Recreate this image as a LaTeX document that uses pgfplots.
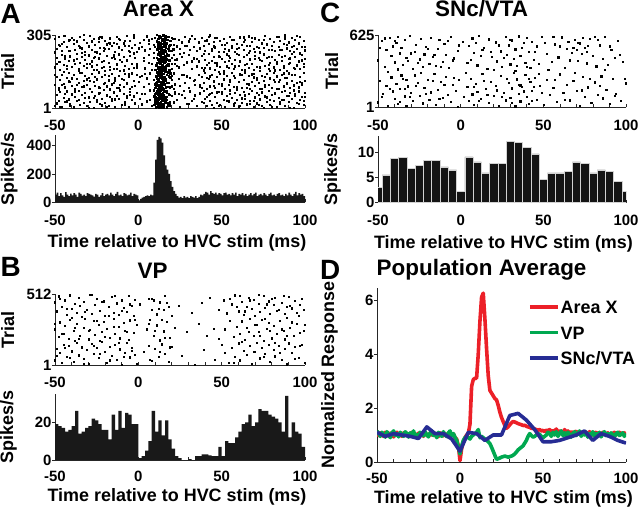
\documentclass[border=0pt]{standalone}
\usepackage{pgfplots}
\pgfplotsset{compat=1.18}
\usepackage{pgfplotstable}
\usepackage{fontspec}
\setmainfont{Liberation Sans}
\definecolor{cred}{RGB}{236,32,40}
\definecolor{cgreen}{RGB}{0,168,80}
\definecolor{cblue}{RGB}{38,44,148}
\newcommand{\fs}[1]{\fontsize{#1}{#1}\selectfont\bfseries}

\pgfplotsset{
  panel/.style={
    scale only axis, anchor=south west,
    axis lines=left, axis line style={-, line width=0.8bp, black!85},
    tick align=inside,
    major tick length=3bp, minor tick length=3bp,
    tick style={line width=0.7bp, black!85},
    every major y tick/.append style={xshift=-3bp},
    xmin=-50, xmax=100,
    xtick={-50,0,50,100},
    minor xtick={-40,-30,-20,-10,10,20,30,40,60,70,80,90},
    /pgf/number format/assume math mode=true,
    tick label style={font=\fs{15}},
    xticklabel style={anchor=base, inner sep=0.5bp},
    label style={font=\fs{18}, inner sep=0pt},
    title style={font=\fs{22.5}, anchor=base, inner sep=0pt},
  },
  dots/.style={only marks, mark=square*, mark size=0.6bp, mark options={draw=none, fill=black}},
  bdots/.style={only marks, mark=square*, mark size=0.8bp, mark options={draw=none, fill=black}},
}

\pgfplotstableread{
x a b c d e f
-50 12 97 171 288 140 233
-49 55 132 210 247 21 186
-48 31 84 193 299 265 77
-47 68 119 160 262 193 5
-46 7 141 224 241 98 270
-45 43 103 182 276 301 152
-44 26 88 207 301 62 217
-43 71 126 166 255 178 29
-42 38 147 199 283 240 113
-41 19 112 217 238 9 285
-40 60 93 174 294 125 58
-39 4 138 202 269 287 199
-38 49 81 186 245 71 245
-37 33 124 228 279 206 97
-36 74 106 158 260 34 163
-35 15 149 191 297 254 14
-34 57 90 213 250 149 231
-33 22 116 177 285 92 305
-32 65 135 203 236 222 44
-31 9 99 168 272 187 121
-30 46 128 221 258 3 259
-29 28 83 185 302 115 82
-28 70 144 196 243 279 175
-27 3 109 162 289 45 211
-26 52 95 215 264 236 130
-25 36 121 180 233 160 28
-24 63 150 208 277 88 292
-23 18 86 226 253 298 66
-22 41 130 169 296 13 194
-21 76 101 198 240 174 251
-20 24 140 155 281 248 105
-19 58 92 219 267 54 7
-18 11 117 188 248 134 273
-17 47 79 172 292 271 159
-16 30 145 211 259 100 39
-15 67 107 163 274 213 224
-14 6 127 205 237 38 117
-13 53 85 183 298 166 268
-12 39 136 225 254 290 85
-11 72 98 157 286 78 203
-10 14 122 194 244 243 16
-9 61 89 216 271 119 158
-8 27 143 176 261 17 282
-7 44 104 201 303 197 50
-6 8 131 165 239 261 142
-5 69 80 220 280 57 237
-4 34 148 187 251 144 90
-3 50 114 170 293 229 304
-2 21 94 209 266 93 20
-1 64 139 179 235 183 169
0 nan 110 nan nan nan 250
1 40 nan nan 273 131 nan
2 17 134 nan 256 nan 60
3 nan 91 197 284 212 nan
4 59 nan 167 242 nan 145
5 29 125 nan 300 26 nan
6 nan 102 223 268 283 188
7 75 146 nan 249 nan 36
8 10 nan 184 290 162 nan
9 48 118 212 263 75 230
10 23 87 159 295 255 42
11 66 137 190 246 180 305
12 2 111 227 278 95 150
13 42 96 173 257 270 12
14 56 142 206 287 31 201
15 16 82 161 234 209 118
16 73 129 195 270 127 264
17 35 105 218 299 4 72
18 62 133 178 252 244 185
19 13 88 200 282 156 25
20 51 120 164 240 294 136
21 25 146 222 265 83 248
22 68 100 186 291 201 61
23 37 nan 204 258 nan 178
24 nan 123 171 285 62 nan
25 5 93 nan 247 nan 227
26 58 nan 214 275 141 nan
27 nan 138 181 232 nan 73
28 45 108 nan 297 259 nan
29 20 nan 192 262 nan 133
30 nan 84 224 279 18 nan
31 71 127 nan 244 nan 289
32 31 nan 166 301 196 nan
33 nan 115 208 255 nan 41
34 54 97 nan 288 120 nan
35 9 nan 175 238 nan 206
36 nan 141 196 272 275 nan
37 63 89 nan 250 nan 99
38 27 131 219 293 85 168
39 74 106 158 260 226 23
40 39 148 203 241 170 281
41 12 80 182 283 47 127
42 57 124 226 268 297 190
43 33 92 167 304 133 61
44 66 139 198 246 14 240
45 1 113 213 277 258 94
46 48 85 160 254 190 294
47 22 130 188 295 67 179
48 70 103 217 236 151 11
49 16 144 174 281 281 213
50 60 95 207 263 102 70
51 36 121 156 290 235 146
52 8 82 193 249 7 266
53 52 136 225 274 175 33
54 29 99 170 242 219 198
55 75 117 210 299 59 110
56 43 147 185 258 285 253
57 11 90 163 286 137 17
58 64 126 201 237 24 175
59 34 79 228 270 249 88
60 5 109 177 252 112 224
61 56 142 194 296 199 9
62 24 87 159 265 42 138
63 69 119 215 243 276 296
64 40 150 180 287 161 54
65 17 101 222 261 86 187
66 62 134 168 300 230 100
67 30 83 204 239 19 262
68 72 112 186 276 293 142
69 8 145 162 248 129 31
70 46 94 220 292 205 234
71 21 128 173 257 66 119
72 58 106 209 284 252 15
73 38 81 157 233 171 202
74 67 137 197 271 11 80
75 3 116 227 253 222 286
76 50 89 178 302 96 132
77 26 143 212 266 267 46
78 73 98 165 245 182 216
79 14 125 190 289 37 155
80 55 86 216 262 245 5
81 32 149 171 278 118 277
82 61 110 202 240 158 64
83 6 133 184 297 81 195
84 44 80 224 255 299 111
85 19 120 161 282 27 243
86 68 141 199 244 214 34
87 37 92 176 269 146 170
88 10 127 218 304 72 292
89 53 104 155 250 264 126
90 28 146 206 275 185 52
91 65 84 188 238 2 208
92 41 114 227 293 139 256
93 1 96 169 260 237 75
94 59 138 213 285 52 164
95 23 108 181 247 176 301
96 71 88 196 272 271 19
97 35 131 166 299 109 229
98 48 100 223 256 200 106
99 15 147 174 280 30 184
100 64 115 205 242 256 47
}\rasterA

\pgfplotstableread{
x a b c d e f g h i j k l
9.5 14 52 nan nan nan nan nan nan nan nan nan nan
10 30 61 101 nan 160 nan nan nan nan 20 nan nan
10.5 5 47 88 133 178 nan nan nan 62 nan 105 nan
11 22 70 109 125 184 210 nan 280 40 95 150 nan
11.5 11 44 82 148 165 203 244 nan 27 120 190 270
12 35 58 97 119 171 225 258 290 8 76 138 205
12.5 17 66 111 141 155 196 235 301 45 92 173 248
13 3 49 79 128 187 219 262 273 20 110 160 230
13.5 27 73 104 150 162 208 239 295 60 86 185 265
14 9 41 92 136 176 193 251 284 16 125 145 215
14.5 33 64 85 117 181 214 231 269 50 100 200 290
15 19 55 113 144 158 227 256 303 5 80 170 240
15.5 38 nan 99 131 189 199 243 278 70 130 210 262
16 nan 45 nan 122 167 216 265 291 30 nan 155 300
16.5 24 nan 87 nan 174 nan 237 287 nan 115 195 255
17 nan 68 nan 139 nan 205 nan 270 48 nan 178 226
17.5 13 nan nan nan 183 nan 248 nan nan 90 nan 285
18 nan nan 106 nan nan 221 nan 298 22 nan 150 nan
18.5 nan 57 nan nan 161 nan 260 nan nan nan 200 240
19 nan nan nan 146 nan nan nan 282 nan 128 nan 265
20 nan nan 93 nan nan 211 nan nan nan nan 185 nan
21 nan nan nan nan nan nan 245 nan nan nan nan 290
}\burstA

\pgfplotstableread{
x y
-50 55
-49 70
-48 45
-47 65
-46 50
-45 40
-44 72
-43 55
-42 45
-41 62
-40 50
-39 65
-38 55
-37 40
-36 70
-35 60
-34 48
-33 55
-32 45
-31 65
-30 60
-29 55
-28 50
-27 42
-26 60
-25 55
-24 40
-23 50
-22 65
-21 45
-20 55
-19 60
-18 50
-17 70
-16 55
-15 45
-14 60
-13 75
-12 50
-11 55
-10 45
-9 65
-8 60
-7 50
-6 55
-5 70
-4 45
-3 60
-2 55
-1 50
0 15
1 25
2 35
3 40
4 45
5 50
6 45
7 55
8 50
9 140
10 300
11 440
12 460
13 450
14 420
15 330
16 260
17 230
18 200
19 150
20 110
21 80
22 60
23 45
24 35
25 40
26 30
27 45
28 35
29 40
30 30
31 45
32 40
33 35
34 45
35 30
36 40
37 55
38 50
39 60
40 75
41 70
42 55
43 80
44 65
45 60
46 70
47 55
48 65
49 60
50 50
51 65
52 70
53 55
54 60
55 50
56 65
57 55
58 70
59 45
60 60
61 55
62 65
63 50
64 60
65 45
66 55
67 65
68 50
69 60
70 70
71 45
72 55
73 60
74 50
75 65
76 55
77 45
78 60
79 70
80 50
81 55
82 45
83 60
84 65
85 50
86 55
87 45
88 60
89 50
90 70
91 55
92 45
93 60
94 75
95 50
96 65
97 55
98 60
99 45
100 45
}\histA

\pgfplotstableread{
x a b c d
-50 45 410 nan nan
-49 230 nan nan 520
-48 nan 575 nan 90
-47 120 nan nan nan
-46 nan 350 nan 600
-45 190 498 nan nan
-44 15 nan nan 310
-43 nan 603 nan 160
-42 262 445 nan nan
-41 140 nan 530 nan
-40 77 392 nan 575
-39 208 560 nan nan
-38 30 331 612 nan
-37 165 470 nan 50
-36 nan 515 nan 280
-35 251 370 nan nan
-34 98 588 160 nan
-33 12 nan 430 240
-32 183 405 nan nan
-31 nan 620 nan 95
-30 125 nan nan 470
-29 59 338 nan nan
-28 280 482 nan nan
-27 nan 545 nan 185
-26 215 nan nan 390
-25 100 418 nan nan
-24 nan 597 nan 300
-23 36 355 nan nan
-22 172 462 nan nan
-21 nan 528 nan 120
-20 243 nan nan 510
-19 68 380 nan nan
-18 132 607 nan nan
-17 nan 440 nan 230
-16 295 nan nan 460
-15 21 362 nan nan
-14 154 508 nan nan
-13 nan 585 nan 75
-12 220 nan nan 350
-11 84 398 nan nan
-10 nan 553 nan 200
-9 268 459 nan nan
-8 110 nan nan 580
-7 nan 342 nan nan
-6 49 615 nan nan
-5 197 nan nan 410
-4 nan 426 nan 260
-3 148 nan nan nan
-2 6 490 nan nan
-1 237 nan nan 540
0 nan nan nan nan
1 nan 570 nan nan
2 92 nan nan nan
3 nan nan nan 300
4 178 388 nan nan
5 58 534 nan nan
6 250 412 nan nan
7 115 nan 599 nan
8 26 476 nan 180
9 205 nan nan 560
10 137 365 nan nan
11 nan 621 nan 60
12 73 450 nan nan
13 290 nan nan 500
14 nan 520 nan 230
15 160 nan nan nan
16 nan 335 nan 110
17 40 592 nan nan
18 226 nan nan 480
19 nan 438 nan nan
20 103 nan nan 330
21 188 566 nan nan
22 nan 401 nan 150
23 18 nan nan 540
24 274 487 nan nan
25 nan 352 nan 90
26 130 nan nan 430
27 63 611 nan nan
28 nan 455 nan 250
29 212 539 nan nan
30 87 374 nan 590
31 166 582 nan 40
32 300 423 nan nan
33 11 505 nan 320
34 245 360 nan nan
35 118 618 nan 200
36 53 446 192 nan
37 178 nan nan 520
38 nan 563 nan 140
39 283 390 nan nan
40 95 602 nan 350
41 34 484 nan 250
42 224 343 nan nan
43 146 571 nan 60
44 nan 416 nan 180
45 258 nan nan 480
46 70 530 nan nan
47 nan 378 nan 290
48 185 nan nan nan
49 nan 611 nan 130
50 22 nan nan nan
51 nan 560 nan nan
52 240 467 nan nan
53 nan nan nan 330
54 107 nan nan nan
55 nan 393 nan nan
56 171 612 nan nan
57 nan 548 nan 240
58 50 nan nan nan
59 nan 436 nan nan
60 287 nan nan 530
61 nan 608 nan nan
62 128 nan nan nan
63 nan 345 nan 70
64 199 510 nan nan
65 nan 570 nan nan
66 63 nan nan 410
67 nan 475 nan nan
68 233 520 nan nan
69 nan 589 nan 300
70 142 498 nan nan
71 nan 405 nan 560
72 17 556 nan nan
73 nan 468 nan 150
74 265 602 nan nan
75 90 517 nan nan
76 nan 384 nan 480
77 176 536 nan nan
78 nan 596 nan 250
79 42 nan nan nan
80 nan 449 nan nan
81 218 nan nan 610
82 nan 358 nan nan
83 113 590 nan nan
84 nan 540 nan 190
85 271 nan nan nan
86 80 420 nan nan
87 nan 613 nan 330
88 155 nan nan nan
89 nan 372 nan nan
90 29 nan nan 530
91 nan 500 nan nan
92 247 nan nan nan
93 nan 433 nan 100
94 122 nan nan nan
95 nan 579 nan nan
96 nan nan nan 460
97 61 nan nan nan
98 nan 395 nan nan
99 nan nan nan 250
100 210 nan nan nan
}\rasterC

\pgfplotstableread{
x y
-52.5 3.0
-47.5 5.5
-42.5 8.8
-37.5 9.0
-32.5 6.8
-27.5 7.4
-22.5 8.4
-17.5 8.4
-12.5 7.1
-7.5 6.5
-2.5 2.3
2.5 9.1
7.5 8.1
12.5 5.9
17.5 7.8
22.5 7.8
27.5 12.2
32.5 11.9
37.5 11.0
42.5 9.7
47.5 4.6
52.5 5.9
57.5 5.9
62.5 6.2
67.5 8.1
72.5 7.8
77.5 5.9
82.5 6.5
87.5 6.2
92.5 4.3
97.5 2.3
102.5 2.3
}\histC

\pgfplotstableread{
x a b c d
-50 35 260 455 300
-49 120 nan 390 70
-48 nan 205 498 nan
-47 88 310 nan 480
-46 15 nan 420 230
-45 150 230 nan nan
-44 nan 285 470 125
-43 62 nan 365 410
-42 140 192 nan nan
-41 nan 330 505 55
-40 101 nan 410 345
-39 25 248 nan nan
-38 nan 177 445 270
-37 160 300 380 nan
-36 72 nan 488 190
-35 nan 215 nan 430
-34 130 nan 350 nan
-33 46 270 460 10
-32 nan 335 nan 385
-31 110 nan 400 nan
-30 8 188 nan 250
-29 nan 255 507 nan
-28 155 nan 372 510
-27 80 320 nan 140
-26 nan 220 438 nan
-25 125 nan 480 320
-24 54 290 nan nan
-23 nan 175 395 85
-22 168 240 nan 460
-21 nan 315 462 nan
-20 95 nan 357 205
-19 20 265 nan nan
-18 nan nan 425 355
-17 135 200 nan 35
-16 68 nan 495 nan
-15 nan 338 378 280
-14 145 225 nan 500
-13 40 nan 448 nan
-12 nan 280 362 160
-11 115 195 nan nan
-10 3 nan 470 395
-9 nan 305 415 60
-8 90 250 nan nan
-7 165 nan 385 240
-6 nan 182 502 nan
-5 58 325 nan 440
-4 128 nan 432 105
-3 nan 235 355 nan
-2 76 nan 475 330
-1 12 295 nan nan
0 nan nan nan nan
1 nan nan 440 nan
2 nan nan nan nan
3 100 nan nan nan
4 nan nan nan nan
5 nan 260 nan nan
6 142 nan 478 300
7 nan 330 nan 40
8 30 nan 402 480
9 nan 210 470 nan
10 118 nan nan 250
11 nan 288 368 nan
12 60 nan nan 410
13 nan 180 455 95
14 152 nan nan 330
15 nan 245 398 nan
16 85 nan 500 200
17 nan 312 nan 450
18 22 nan 420 nan
19 nan 198 nan 130
20 132 nan 360 nan
21 nan nan nan nan
22 nan 270 nan nan
23 nan nan nan nan
24 nan nan 430 nan
25 nan nan nan nan
26 70 nan nan nan
27 nan nan nan nan
28 nan nan nan nan
29 nan 240 nan nan
30 nan nan nan nan
31 nan nan nan nan
32 nan nan 380 nan
33 nan nan nan nan
34 5 nan nan nan
35 nan nan nan nan
36 nan 300 nan nan
37 nan nan nan nan
38 nan nan 450 nan
39 110 nan nan nan
40 nan nan nan nan
41 nan 215 nan nan
42 nan nan nan nan
43 nan nan 490 nan
44 nan nan nan nan
45 nan 265 nan nan
46 40 nan nan nan
47 nan nan nan nan
48 nan 190 400 nan
49 nan nan nan nan
50 145 nan nan nan
51 nan nan 470 nan
52 90 260 nan nan
53 nan nan 375 nan
54 18 nan nan nan
55 nan 322 nan 480
56 125 nan 440 nan
57 nan 205 nan 15
58 60 nan 505 nan
59 nan 280 nan 420
60 158 nan 390 nan
61 35 230 nan 500
62 nan 318 458 170
63 105 nan 366 nan
64 nan 185 nan 390
65 74 270 425 nan
66 nan nan 490 240
67 140 338 nan 470
68 10 nan 410 nan
69 nan 212 472 100
70 95 nan 360 290
71 165 295 nan nan
72 nan 240 445 510
73 50 nan 388 215
74 128 330 nan nan
75 nan 178 500 60
76 82 nan 418 335
77 nan 262 nan 440
78 150 305 462 nan
79 25 nan 373 250
80 nan 195 nan 480
81 112 285 435 nan
82 65 nan 485 160
83 nan 225 nan 395
84 138 nan 398 nan
85 nan 320 nan 90
86 42 nan 452 260
87 nan 250 nan 500
88 120 188 370 nan
89 7 340 425 210
90 158 nan 495 nan
91 nan 272 nan 430
92 88 nan 412 310
93 nan 210 nan nan
94 135 nan 466 45
95 nan 300 380 nan
96 55 nan nan 360
97 nan 235 438 140
98 148 nan nan 480
99 nan nan 400 250
100 20 290 nan nan
}\rasterB

\pgfplotstableread{
x y
-50 19
-48 18
-46 17
-44 15
-42 16
-40 18
-38 26
-36 14
-34 15
-32 17
-30 18
-28 22
-26 21
-24 19
-22 16
-20 16
-18 11
-16 24
-14 16
-12 26
-10 17
-8 25
-6 24
-4 19
-2 19
0 1
2 2
4 5
6 10
8 26
10 15
12 21
14 13
16 21
18 11
20 6
22 2
24 1
26 0
28 0
30 0.5
32 0
34 2
36 2
38 3
40 3
42 2.5
44 2
46 2
48 7
50 2
52 10
54 9
56 9
58 12
60 15
62 19
64 20
66 24
68 18
70 20
72 27
74 26
76 26
78 24
80 23
82 22
84 20
86 15
88 34
90 12
92 20
94 15
96 14
98 7
100 7
}\histB

\pgfplotstableread{
x red green
-50 1.05 1.15
-49 0.98 1.05
-48 1.08 0.95
-47 1.00 1.10
-46 0.95 1.00
-45 1.10 0.92
-44 1.02 1.12
-43 0.96 1.02
-42 1.07 0.90
-41 1.00 1.08
-40 0.93 1.15
-39 1.05 0.98
-38 1.10 1.05
-37 0.97 0.93
-36 1.03 1.10
-35 0.95 1.00
-34 1.08 0.95
-33 1.00 1.12
-32 1.06 1.05
-31 0.96 0.92
-30 1.02 1.08
-29 1.10 1.00
-28 0.97 1.15
-27 1.04 0.95
-26 0.94 1.02
-25 1.07 0.90
-24 1.00 1.10
-23 1.05 1.05
-22 0.95 0.97
-21 1.09 1.12
-20 1.01 1.00
-19 0.96 0.93
-18 1.06 1.08
-17 1.00 1.15
-16 1.10 0.98
-15 0.98 1.05
-14 1.03 0.90
-13 0.94 1.10
-12 1.08 1.02
-11 1.02 0.95
-10 0.97 1.12
-9 1.05 1.00
-8 1.00 0.94
-7 0.93 1.08
-6 1.06 1.15
-5 0.99 0.97
-4 1.04 1.05
-3 0.90 0.92
-2 0.85 0.80
-1 0.60 0.55
0 0.05 0.30
1 0.50 0.60
2 0.75 0.80
3 0.90 0.90
4 1.00 0.95
5 1.05 0.90
6 1.40 0.85
7 2.80 0.95
8 3.05 1.00
9 3.10 1.05
10 3.10 1.10
11 4.00 1.20
12 5.20 0.90
13 6.10 0.95
14 6.25 0.90
15 5.30 0.85
16 4.20 0.80
17 3.20 0.75
18 2.65 0.68
19 2.55 0.55
20 2.45 0.40
21 2.35 0.25
22 2.30 0.10
23 2.10 0.12
24 1.85 0.15
25 1.65 0.18
26 1.50 0.20
27 1.35 0.22
28 1.25 0.20
29 1.30 0.18
30 1.38 0.20
31 1.45 0.22
32 1.50 0.25
33 1.48 0.30
34 1.45 0.37
35 1.42 0.45
36 1.40 0.50
37 1.38 0.55
38 1.35 0.60
39 1.36 0.70
40 1.32 0.80
41 1.30 0.95
42 1.28 1.05
43 1.25 0.98
44 1.24 0.92
45 1.22 0.95
46 1.20 1.00
47 1.18 1.05
48 1.20 1.02
49 1.15 0.95
50 1.17 0.90
51 1.12 0.95
52 1.18 1.00
53 1.15 1.10
54 1.20 1.05
55 1.12 0.95
56 1.16 1.10
57 1.14 1.00
58 1.22 1.12
59 1.10 0.95
60 1.15 1.05
61 1.12 1.15
62 1.08 0.98
63 1.20 1.08
64 1.10 0.95
65 1.15 1.10
66 1.05 1.02
67 1.12 0.92
68 1.08 1.05
69 1.10 1.12
70 1.14 0.98
71 1.06 1.05
72 1.10 1.15
73 1.03 0.95
74 1.12 1.08
75 1.08 1.00
76 1.10 1.10
77 1.04 0.92
78 1.12 1.05
79 1.06 1.00
80 1.00 1.12
81 1.08 0.95
82 1.10 1.05
83 1.03 1.00
84 1.07 1.10
85 1.00 0.93
86 1.10 1.05
87 1.05 1.12
88 1.02 0.98
89 1.08 1.05
90 1.00 0.95
91 0.95 1.08
92 1.05 1.00
93 1.10 0.92
94 1.00 1.05
95 1.05 1.10
96 1.10 0.98
97 1.02 1.02
98 1.08 1.08
99 1.05 0.95
100 1.10 1.05
}\popD

\pgfplotstableread{
x y
-50 1.10
-45 0.95
-40 1.05
-35 1.00
-30 0.95
-25 0.87
-20 1.30
-15 1.05
-10 1.05
-5 0.85
0 0.40
5 1.10
10 1.05
15 0.80
20 1.00
25 1.00
30 1.72
35 1.80
40 1.55
45 1.20
50 0.75
55 0.75
60 0.80
65 0.90
70 1.00
75 1.15
80 0.80
85 1.05
90 0.95
95 0.80
100 0.70
}\blueD

\begin{document}
\begin{tikzpicture}
\useasboundingbox (0,0) rectangle (640bp,508bp);

% Panel letters
\node[anchor=base west, inner sep=0pt, font=\fs{28}] at (0.5bp,484.7bp) {A};
\node[anchor=base west, inner sep=0pt, font=\fs{28}] at (320bp,485bp) {C};
\node[anchor=base west, inner sep=0pt, font=\fs{28}] at (0.5bp,231.3bp) {B};
\node[anchor=base west, inner sep=0pt, font=\fs{28}] at (320bp,228bp) {D};

% A raster
\begin{axis}[panel, at={(55bp,400bp)}, width=250bp, height=73bp,
  ymin=1, ymax=305, ytick={1,305}, xticklabel style={yshift=-23bp},
  title={Area X}, title style={at={(axis description cs:0.414,1)}, yshift=12.5bp},
  ylabel={Trial}, ylabel style={at={(axis description cs:-0.164,0.5)}, anchor=base}]
\addplot[dots] table[x=x, y=a] {\rasterA};
\addplot[dots] table[x=x, y=b] {\rasterA};
\addplot[dots] table[x=x, y=c] {\rasterA};
\addplot[dots] table[x=x, y=d] {\rasterA};
\addplot[dots] table[x=x, y=e] {\rasterA};
\addplot[dots] table[x=x, y=f] {\rasterA};
\addplot[bdots] table[x=x, y=a] {\burstA};
\addplot[bdots] table[x=x, y=b] {\burstA};
\addplot[bdots] table[x=x, y=c] {\burstA};
\addplot[bdots] table[x=x, y=d] {\burstA};
\addplot[bdots] table[x=x, y=e] {\burstA};
\addplot[bdots] table[x=x, y=f] {\burstA};
\addplot[bdots] table[x=x, y=g] {\burstA};
\addplot[bdots] table[x=x, y=h] {\burstA};
\addplot[bdots] table[x=x, y=i] {\burstA};
\addplot[bdots] table[x=x, y=j] {\burstA};
\addplot[bdots] table[x=x, y=k] {\burstA};
\addplot[bdots] table[x=x, y=l] {\burstA};
\end{axis}

% A histogram
\begin{axis}[panel, at={(55bp,305.5bp)}, width=250bp, height=67bp,
  ymin=0, ymax=470, ytick={0,200,400}, xticklabel style={yshift=-23bp},
  ylabel={Spikes/s}, ylabel style={at={(axis description cs:-0.165,0.5)}, anchor=base},
  xlabel={Time relative to HVC stim (ms)},
  xlabel style={at={(axis description cs:0.488,0)}, anchor=base, yshift=-45.5bp}]
\addplot[fill=black!90, draw=none, const plot mark left] table[x=x, y=y] {\histA} \closedcycle;
\end{axis}

% C raster
\begin{axis}[panel, at={(378bp,400.7bp)}, width=248bp, height=72bp,
  ymin=1, ymax=625, ytick={1,625}, xticklabel style={yshift=-23bp},
  title={SNc/VTA}, title style={at={(axis description cs:0.418,1)}, yshift=12.5bp},
  ylabel={Trial}, ylabel style={at={(axis description cs:-0.161,0.5)}, anchor=base}]
\addplot[dots] table[x=x, y=a] {\rasterC};
\addplot[dots] table[x=x, y=b] {\rasterC};
\addplot[dots] table[x=x, y=c] {\rasterC};
\addplot[dots] table[x=x, y=d] {\rasterC};
\end{axis}

% C histogram
\begin{axis}[panel, at={(378bp,305.3bp)}, width=248bp, height=66.5bp,
  ymin=0, ymax=13.2, ytick={0,5,10}, xticklabel style={yshift=-23bp},
  ylabel={Spikes/s}, ylabel style={at={(axis description cs:-0.165,0.5)}, anchor=base},
  xlabel={Time relative to HVC stim (ms)},
  xlabel style={at={(axis description cs:0.506,0)}, anchor=base, yshift=-45.5bp}]
\addplot[ybar interval, fill=black!92, draw=gray!35, line width=0.5bp] table[x=x, y=y] {\histC};
\end{axis}

% B raster
\begin{axis}[panel, at={(55bp,143bp)}, width=250bp, height=70.7bp,
  ymin=1, ymax=512, ytick={1,512}, xticklabel style={yshift=-23bp},
  title={VP}, title style={at={(axis description cs:0.39,1)}, yshift=10bp},
  ylabel={Trial}, ylabel style={at={(axis description cs:-0.164,0.5)}, anchor=base}]
\addplot[dots] table[x=x, y=a] {\rasterB};
\addplot[dots] table[x=x, y=b] {\rasterB};
\addplot[dots] table[x=x, y=c] {\rasterB};
\addplot[dots] table[x=x, y=d] {\rasterB};
\end{axis}

% B histogram
\begin{axis}[panel, at={(55bp,48bp)}, width=250bp, height=66bp,
  ymin=0, ymax=35, ytick={0,20}, xticklabel style={yshift=-21bp},
  ylabel={Spikes/s}, ylabel style={at={(axis description cs:-0.168,0.5)}, anchor=base},
  xlabel={Time relative to HVC stim (ms)},
  xlabel style={at={(axis description cs:0.488,0)}, anchor=base, yshift=-41bp}]
\addplot[fill=black!90, draw=none, const plot mark left] table[x=x, y=y] {\histB} \closedcycle;
\end{axis}

% D population average
\begin{axis}[panel, at={(377bp,46bp)}, width=249bp, height=174bp,
  ymin=0, ymax=6.44, ytick={0,2,4,6}, xticklabel style={yshift=-21bp},
  title={Population Average}, title style={at={(axis description cs:0.42,1)}, yshift=6.6bp},
  ylabel={Normalized Response}, ylabel style={at={(axis description cs:-0.172,0.5)}, anchor=base},
  xlabel={Time relative to HVC stim (ms)},
  xlabel style={at={(axis description cs:0.508,0)}, anchor=base, yshift=-41bp},
  legend style={draw=none, fill=none, at={(axis description cs:0.606,0.934)}, anchor=north west,
    inner sep=0pt, row sep=10.5bp, font=\fs{18},
    nodes={inner sep=1bp, text height=13bp, text depth=0bp}},
  legend cell align=left,
  legend image code/.code={\draw[#1] (0bp,0bp) -- (28bp,0bp);}]
\addplot[cred, line width=3.6bp, line join=round] table[x=x, y=red] {\popD};
\addlegendentry{Area X}
\addplot[cgreen, line width=3.6bp, line join=round] table[x=x, y=green] {\popD};
\addlegendentry{VP}
\addplot[cblue, line width=3.6bp, line join=round] table[x=x, y=y] {\blueD};
\addlegendentry{SNc/VTA}
\end{axis}
\end{tikzpicture}
\end{document}
